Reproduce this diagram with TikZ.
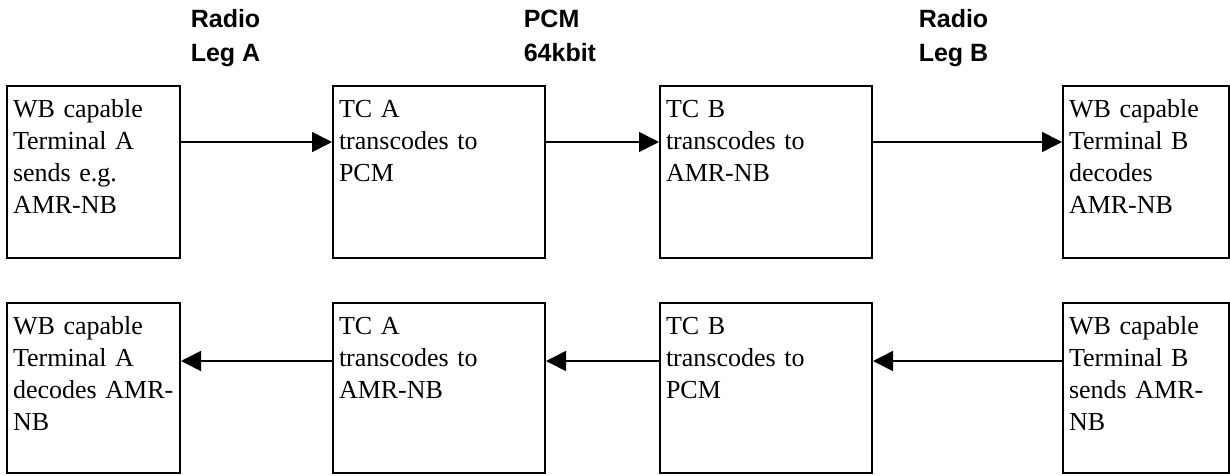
\documentclass[tikz,border=0pt]{standalone}
\usepackage{fontspec}
\setmainfont{Liberation Serif}
\setsansfont{Liberation Sans}
\usetikzlibrary{arrows.meta}
\usetikzlibrary{positioning}

\newcommand{\boxfont}{\fontsize{19.5pt}{24pt}\selectfont}
\newcommand{\legfont}{\sffamily\bfseries\fontsize{18.75pt}{25.5pt}\selectfont}

\tikzset{
  box/.style={draw, line width=1.5pt, anchor=north west, align=left, font=\boxfont,
    inner xsep=4.5pt, inner ysep=0pt, text height=23.25pt},
  upper/.style={text depth=105.75pt},
  lower/.style={text depth=104.25pt},
  termwidth-a/.style={text width=120.75pt},
  tcwidth/.style={text width=150pt},
  termwidth-b/.style={text width=115.5pt},
  leg/.style={font=\legfont, align=left, anchor=base west, inner sep=0pt},
}

\begin{document}
\begin{tikzpicture}[x=0.75pt,y=-0.75pt,line width=1.2pt,>={Triangle[length=15pt,width=15pt]}]
    \useasboundingbox (0,0) rectangle (1230,475);

    % link labels
    \node[leg] (leg-a) at (190,61) {Radio\\Leg A};
    \node[leg] (pcm) at (523,61) {PCM\\64kbit};
    \node[leg] (leg-b) at (918,61) {Radio\\Leg B};

    % A to B
    \node[box,upper,termwidth-a] (terminal-a-1) at (6,85) {WB capable\\Terminal A\\sends e.g.\\AMR-NB};
    \node[box,upper,tcwidth] (tc-a-1) at (332,85) {TC A\\transcodes to\\PCM};
    \node[box,upper,tcwidth] (tc-b-1) at (659,85) {TC B\\transcodes to\\AMR-NB};
    \node[box,upper,termwidth-b] (terminal-b-1) at (1062,85) {WB capable\\Terminal B\\decodes\\AMR-NB};

    % B to A
    \node[box,lower,termwidth-a] (terminal-a-2) at (6,302) {WB capable\\Terminal A\\decodes AMR-\\NB};
    \node[box,lower,tcwidth] (tc-a-2) at (332,302) {TC A\\transcodes to\\AMR-NB};
    \node[box,lower,tcwidth] (tc-b-2) at (659,302) {TC B\\transcodes to\\PCM};
    \node[box,lower,termwidth-b] (terminal-b-2) at (1062,302) {WB capable\\Terminal B\\sends AMR-\\NB};

    \draw[->] ([yshift=-42.75pt]terminal-a-1.north east) -- ([yshift=-42.75pt]tc-a-1.north west);
    \draw[->] ([yshift=-42.75pt]tc-a-1.north east) -- ([yshift=-42.75pt]tc-b-1.north west);
    \draw[->] ([yshift=-42.75pt]tc-b-1.north east) -- ([yshift=-42.75pt]terminal-b-1.north west);

    \draw[->] ([yshift=-44.25pt]terminal-b-2.north west) -- ([yshift=-44.25pt]tc-b-2.north east);
    \draw[->] ([yshift=-44.25pt]tc-b-2.north west) -- ([yshift=-44.25pt]tc-a-2.north east);
    \draw[->] ([yshift=-44.25pt]tc-a-2.north west) -- ([yshift=-44.25pt]terminal-a-2.north east);
  \end{tikzpicture}
\end{document}
